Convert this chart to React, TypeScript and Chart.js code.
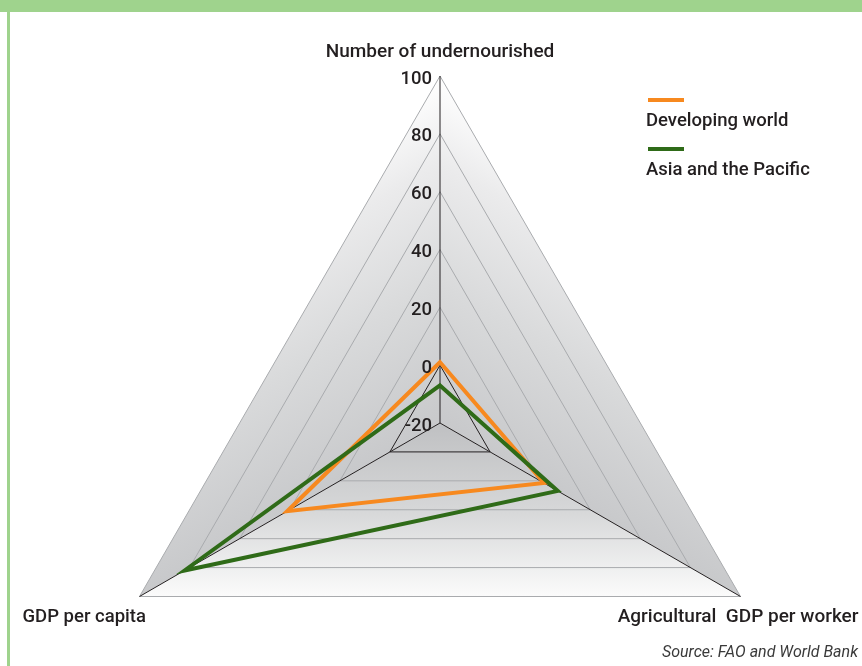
import React, { useEffect, useRef } from "react";
import { Chart, registerables } from "chart.js";

Chart.register(...registerables);

const axisLabels = ["Number of undernourished", "Agricultural  GDP per worker", "GDP per capita"];
const developingWorld = [1, 21.5, 41];
const asiaPacific = [-7, 27, 82];
const tickValues = [-20, 0, 20, 40, 60, 80, 100];
const seriesNames = ["Developing world", "Asia and the Pacific"];
const seriesColors = ["#f7891f", "#2f6b18"];
const sourceText = "Source: FAO and World Bank";

const FONT = "Roboto, 'DejaVu Sans', sans-serif";
const TEXT = "#231f20";

const shadingPlugin = {
  id: "shading",
  beforeDraw(chart: any) {
    const s = chart.scales.r;
    const ctx = chart.ctx;
    const R = s.drawingArea;
    const c = { x: s.xCenter, y: s.yCenter };
    const p0 = s.getPointPosition(0, R);
    const p1 = s.getPointPosition(1, R);
    const p2 = s.getPointPosition(2, R);
    const foot = (p: any, a: any) => {
      const ux = a.x - c.x, uy = a.y - c.y;
      const L = Math.hypot(ux, uy);
      const nx = ux / L, ny = uy / L;
      const d = (p.x - c.x) * nx + (p.y - c.y) * ny;
      return { x: c.x + nx * d, y: c.y + ny * d };
    };
    const tri = (a: any, b: any, g: any) => {
      ctx.save();
      ctx.beginPath();
      ctx.moveTo(c.x, c.y);
      ctx.lineTo(a.x, a.y);
      ctx.lineTo(b.x, b.y);
      ctx.closePath();
      ctx.fillStyle = g;
      ctx.fill();
      ctx.restore();
    };
    const side = (g: any) => {
      g.addColorStop(0, "#c8c9cb");
      g.addColorStop(0.4, "#d9dadb");
      g.addColorStop(0.75, "#ebebec");
      g.addColorStop(1, "#ffffff");
    };
    const fl = foot(p0, p2);
    const gl = ctx.createLinearGradient(fl.x, fl.y, p0.x, p0.y);
    side(gl);
    tri(p0, p2, gl);
    const fr = foot(p0, p1);
    const gr = ctx.createLinearGradient(fr.x, fr.y, p0.x, p0.y);
    side(gr);
    tri(p0, p1, gr);
    const mid = { x: (p1.x + p2.x) / 2, y: (p1.y + p2.y) / 2 };
    const gb = ctx.createLinearGradient(c.x, c.y, mid.x, mid.y);
    gb.addColorStop(0, "#bfc0c2");
    gb.addColorStop(0.5, "#d6d7d8");
    gb.addColorStop(1, "#fbfbfb");
    tri(p1, p2, gb);
  },
};

const textPlugin = {
  id: "texts",
  afterDraw(chart: any) {
    const s = chart.scales.r;
    const ctx = chart.ctx;
    const R = s.drawingArea;
    ctx.save();
    ctx.fillStyle = TEXT;
    ctx.font = `500 18.5px ${FONT}`;
    ctx.textAlign = "right";
    ctx.textBaseline = "middle";
    tickValues.forEach((v) => {
      const d = s.getDistanceFromCenterForValue(v);
      ctx.fillText(String(v), s.xCenter - 8, s.yCenter - d + 3);
    });
    const p0 = s.getPointPosition(0, R);
    const p1 = s.getPointPosition(1, R);
    const p2 = s.getPointPosition(2, R);
    ctx.font = `500 19px ${FONT}`;
    ctx.textAlign = "center";
    ctx.fillText(axisLabels[0], p0.x, p0.y - 24);
    ctx.textAlign = "right";
    ctx.fillText(axisLabels[1], p1.x + 118, p1.y + 21);
    ctx.font = `500 18.5px ${FONT}`;
    ctx.textAlign = "left";
    ctx.fillText(axisLabels[2], p2.x - 117, p2.y + 21);
    const lx = 646;
    const ly = [100, 149];
    seriesNames.forEach((name, i) => {
      ctx.strokeStyle = seriesColors[i];
      ctx.lineWidth = 4;
      ctx.beginPath();
      ctx.moveTo(lx + 2, ly[i]);
      ctx.lineTo(lx + 38, ly[i]);
      ctx.stroke();
      ctx.fillStyle = TEXT;
      ctx.textAlign = "left";
      ctx.fillText(name, lx, ly[i] + 21);
    });
    ctx.font = `italic 16px ${FONT}`;
    ctx.fillStyle = "#3a3a3a";
    ctx.textAlign = "right";
    ctx.fillText(sourceText, 858, 653);
    ctx.restore();
  },
};

export default function App() {
  const ref = useRef<HTMLCanvasElement | null>(null);
  useEffect(() => {
    if (!ref.current) return;
    const chart = new Chart(ref.current, {
      type: "radar",
      data: {
        labels: axisLabels,
        datasets: [
          {
            label: seriesNames[0],
            data: developingWorld,
            borderColor: seriesColors[0],
            borderWidth: 4,
            pointRadius: 0,
            fill: false,
            borderJoinStyle: "miter",
            order: 1,
          },
          {
            label: seriesNames[1],
            data: asiaPacific,
            borderColor: seriesColors[1],
            borderWidth: 4,
            pointRadius: 0,
            fill: false,
            borderJoinStyle: "miter",
            order: 0,
          },
        ],
      },
      options: {
        responsive: false,
        animation: false,
        layout: { padding: { left: 93, right: 75, top: 76, bottom: 30 } },
        plugins: { legend: { display: false }, tooltip: { enabled: false } },
        elements: { line: { tension: 0 } },
        scales: {
          r: {
            min: -20,
            max: 100,
            startAngle: 0,
            ticks: { display: false, stepSize: 20 },
            pointLabels: { display: false },
            grid: {
              color: (c: any) => (c.tick && c.tick.value === 0 ? "#231f20" : "#a9abae"),
              lineWidth: 1,
            },
            angleLines: { color: "#231f20", lineWidth: 1 },
          },
        },
      },
      plugins: [shadingPlugin, textPlugin],
    });
    return () => chart.destroy();
  }, []);
  return (
    <div style={{ position: "fixed", left: 0, top: 0, width: 862, height: 666, overflow: "hidden", background: "#fff" }}>
      <div style={{ position: "absolute", left: 0, top: 0, width: 862, height: 12, background: "#9fd38d" }} />
      <div style={{ position: "absolute", left: 7, top: 12, width: 3, height: 654, background: "#9fd38d" }} />
      <canvas ref={ref} width={862} height={800} style={{ position: "absolute", left: 0, top: 0, display: "block" }} />
    </div>
  );
}
